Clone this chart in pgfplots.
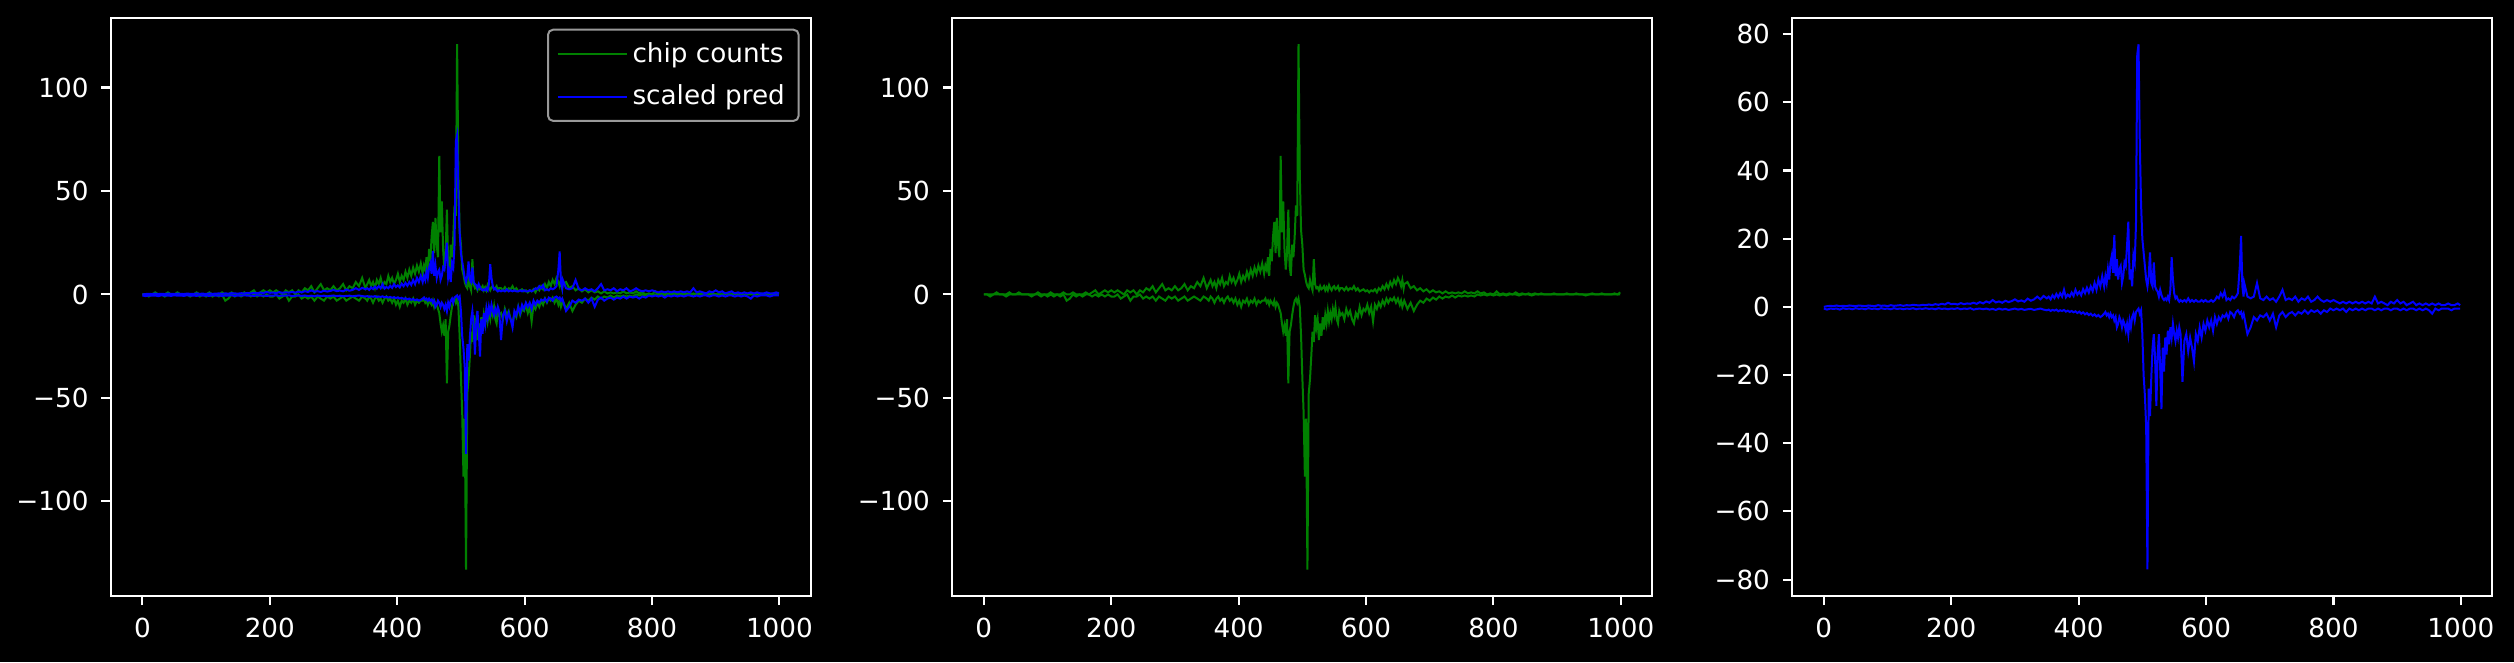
\documentclass[border=0pt]{standalone}
\usepackage{pgfplots}
\usepackage{pgfplotstable}
\pgfplotsset{compat=1.18}
\usepackage{fontspec}
\setmainfont{DejaVu Sans}
\definecolor{mplgreen}{HTML}{008000}
\definecolor{mplblue}{HTML}{0000FF}
\definecolor{legedge}{HTML}{999999}

\pgfplotstableread{
x gu gl bu bl
0 0 0 0 -0.5
5 0 0 0.2 -0.8
10 0 -1 0.3 -0.5
15 0 0 0.2 -0.6
20 1 0 0.4 -0.5
25 0 0 0.2 -0.8
30 0 0 0.3 -0.4
35 0 -1 0.2 -0.6
40 1 0 0.4 -0.5
45 0 0 0.3 -0.7
50 0 0 0.2 -0.4
55 1 0 0.4 -0.6
60 0 0 0.3 -0.5
65 0 0 0.2 -0.7
70 0 0 0.4 -0.4
75 0 -1 0.3 -0.6
80 0 0 0.2 -0.5
85 1 0 0.5 -0.7
90 0 -1 0.3 -0.4
95 0 0 0.4 -0.6
100 0 -1 0.2 -0.5
105 1 0 0.5 -0.7
110 0 -1 0.3 -0.4
115 0 0 0.4 -0.6
120 0 -1 0.5 -0.5
125 1 0 0.3 -0.7
130 0 -3 0.5 -0.5
135 0 -2 0.4 -0.6
140 1 0 0.6 -0.4
145 0 -1 0.5 -0.7
150 0 0 0.4 -0.5
155 0 -1 0.6 -0.6
160 1 0 0.5 -0.4
165 0 0 0.7 -0.6
170 1 -1 0.5 -0.5
175 2 0 0.8 -0.7
180 0 -1 0.6 -0.4
185 1 0 0.9 -0.6
190 2 -1 0.7 -0.5
195 1 0 1.2 -0.7
200 2 -1 0.8 -0.5
205 1 -1 0.9 -0.6
210 2 0 0.7 -0.4
215 1 -2 1.1 -0.7
220 0 -1 0.8 -0.5
225 2 0 1.0 -0.6
230 1 -3 0.9 -0.4
235 2 -1 1.2 -0.8
240 0 -1 0.9 -0.6
245 2 0 1.4 -0.5
250 1 -2 1.0 -0.7
255 3 -1 1.6 -0.5
260 2 -2 1.2 -0.8
265 4 -1 2.0 -0.6
270 1 -3 1.3 -0.9
275 3 -1 1.6 -0.5
280 5 -2 1.2 -0.8
285 2 -3 1.8 -0.6
290 3 -1 1.4 -0.9
295 2 -2 1.7 -0.7
300 4 -1 2.2 -0.5
305 2 -3 1.6 -0.8
310 3 -2 1.9 -0.6
315 5 -1 1.5 -0.9
320 2 -3 2.4 -0.7
325 4 -2 1.8 -0.6
330 3 -1 2.2 -0.9
335 6 -2 3.0 -0.7
340 4 -3 2.2 -0.5
345 8 -1 3.2 -0.8
350 3 -2 2.5 -1.0
353 5 -3 3.0 -0.8
356 7 -1 2.2 -1.2
359 4 -2 3.4 -0.9
362 6 -4 2.6 -1.1
365 3 -2 3.8 -0.8
368 7 -1 2.8 -1.3
371 5 -3 4.0 -1.0
374 8 -2 3.0 -1.2
377 4 -4 5.0 -0.9
380 6 -2 2.8 -1.4
383 5 -1 3.6 -1.1
386 9 -3 3.0 -1.5
389 6 -2 4.2 -1.2
392 8 -4 3.2 -1.6
395 5 -2 5.0 -1.3
398 7 -5 3.6 -1.8
401 10 -3 4.4 -1.4
404 6 -6 3.4 -2.0
407 9 -3 5.2 -1.6
410 7 -4 4.0 -2.2
413 11 -2 5.6 -1.8
416 8 -5 4.2 -2.4
419 12 -3 6.0 -2.0
422 9 -4 4.6 -2.6
425 13 -2 7.0 -2.2
428 10 -5 5.0 -2.8
431 14 -3 8.0 -2.4
434 11 -4 6.0 -3.0
437 15 -3 9.0 -2.6
440 10 -3 6 -2
442 14 -2 9 -1.5
444 12 -4 7 -2.5
446 18 -3 11 -2
448 9 -5 8 -3
450 22 -3 13 -2
452 16 -4 15 -3
454 28 -5 10 -2.5
456 35 -3 21 -4
458 20 -6 9 -3
460 37 -4 14 -6
462 24 -5 8 -5
464 18 -7 11 -3
466 67 -9 12 -4
468 30 -14 7 -6
470 45 -18 9 -4
472 22 -15 13 -5
474 12 -20 12 -7
476 20 -12 18 -5
478 41 -43 25 -8
480 14 -18 8 -4
482 9 -15 11 -6
484 24 -10 6 -3
486 18 -6 15 -2
488 28 -3 13 -4
490 43 -2 24 -1.5
492 38 -4 74 -1
494 121 -2 77 -0.5
496 58 -6 48 -2
498 31 -20 30 -1
500 24 -40 20 -8
502 12 -57 16 -20
504 9.5 -88 12 -26
506 6 -60 8 -35
508 4 -133 6 -77
510 3 -48 9 -24
512 7 -41 16 -32
514 4 -30 7 -21
516 2 -18 6 -12
518 17 -23 13 -8
520 5 -10 6 -15
522 3 -16 5 -29
524 3.5 -12 4.5 -14
526 2 -22 3 -8
528 4 -14 5 -18
530 2.5 -20 3.5 -30
532 3 -11 2.5 -12
534 4 -17 2 -19
536 2 -10 2.5 -9
538 3.5 -14 2 -14
540 2 -8 3 -7
542 4.5 -13 2 -11
544 3 -9 5 -6
546 2 -12 14.6 -9
548 3.5 -7 8 -5
550 4 -10 4 -8
552 2.5 -6 2.5 -10
554 3 -12 3 -7
556 4 -14 2 -9
558 2 -8 1.5 -6
560 3 -10 2 -8
563 3 -9 1.5 -22
566 2 -12 2 -10
569 3.5 -7 1.5 -8
572 2 -10 2.5 -13
575 3 -8 1.5 -9
578 2.5 -12 2 -12
581 4 -14 1.5 -16
584 2 -9 2 -8
587 3 -11 1.5 -10
590 1.5 -6 1.5 -6
593 2 -10 2 -9
596 2.5 -7 1.5 -5
599 1.5 -8 2 -7
602 2 -5 1.5 -4
605 1 -9 1.5 -6
608 2 -6 2 -4
611 1.5 -13 1.5 -7
614 2.5 -5 2 -3
617 1 -7 3 -5
620 3 -4 2.5 -3
623 2 -6 4 -4
626 4 -3 3 -2.5
629 2.5 -5 4.5 -3
632 5 -2 2 -2
635 3 -4 2.5 -3.5
638 6 -2 2 -1.5
641 4 -3 3 -2
644 7 -1.5 2.5 -3
647 5 -4 3 -1.5
650 8 -2 4 -1
653 6 -5 12 -2
655 4 -3 20.8 -1.5
657 7 -6 6 -3
659 3 -4 3 -2
660 5 -3 7 -3
665 6 -7 3 -8
670 3 -4 2.5 -6
675 4 -8 3 -3
680 2 -5 7 -4
685 3 -3 2.5 -2.5
690 1.5 -4 2 -3
695 2.5 -2 3 -2
700 1 -3 2 -4
705 2 -1.5 2.5 -2
710 1 -2.5 1.5 -6
715 1.5 -1 3 -2.5
720 0.5 -2 5 -1.5
725 1.5 -1 2 -3
730 0.5 -1.5 2.5 -2
735 1 -0.5 2 -1.5
740 0.5 -1.5 3 -2.5
745 1 -0.5 1.5 -1.5
750 0.5 -1 2.5 -2
755 1.5 -0.5 2 -1
760 0.5 -1 3 -2
765 1 -0.5 1.5 -1
770 0.5 -1 2 -1.5
775 1.5 0 3 -1
780 0.5 -0.5 2 -2
785 1 0 1.5 -1
790 0 -0.5 2 -1.5
795 0.5 0 1.5 -0.5
800 0 -0.5 2 -1
805 1.5 0 1.5 -0.5
810 0 -0.5 1 -1
815 0.5 0 1.5 -0.5
820 0 -0.5 1 -1.5
825 0.5 0 1.5 -0.5
830 0 0 1 -1
835 1 0 1.5 -0.5
840 0 -0.5 1 -1
845 0.5 0 1.5 -0.5
850 0 0 1 -1
855 0.5 0 1.5 -0.5
860 0 -0.5 1 -0.5
865 0.5 0 3 -1
870 0 0 1 -0.5
875 0.5 0 1.5 -1
880 0 0 1 -0.5
885 0 0 0.5 -0.5
890 0 0 1.5 -1
895 0.5 0 1 -0.5
900 0 0 2 -0.5
905 0 0 1 -1
910 0 0 1.5 -0.5
915 0.5 0 0.5 -1
920 0 0 1 -0.5
925 0 0 1.5 -0.5
930 0.5 0 0.5 -1
935 0 0 1 -0.5
940 0 0 0.5 -1
945 0 -0.5 1 -0.5
950 0 0 0.5 -1
955 0.5 0 1 -2
960 0 0 0.5 -0.5
965 0 0 1 -1
970 0.5 0 0.5 -0.5
975 0 0 0.5 -0.5
980 0 0 1 -0.5
985 0 0 0.5 -1
990 0.5 0 0.5 -0.5
995 0 0 1 -0.5
999 1 0 0.5 -0.5
}\data

\pgfplotsset{
  darkax/.style={
    scale only axis,
    width=280pt, height=231.3pt,
    anchor=south west,
    xmin=-49.95, xmax=1048.95,
    axis line style={white, line width=0.84pt},
    tick style={white, line width=0.84pt},
    major tick length=3.7pt,
    tick align=outside,
    xtick pos=left, ytick pos=left,
    xtick={0,200,400,600,800,1000},
    xticklabels={0,200,400,600,800,1000},
    ticklabel style={text=white, font=\fontsize{10.5}{12.6}\selectfont},
    xticklabel style={yshift=-1.6pt},
    yticklabel style={xshift=-1.6pt},
    axis background/.style={fill=black},
    clip=true,
  },
  gline/.style={color=mplgreen, line width=0.8pt},
  bline/.style={color=mplblue, line width=0.8pt},
}

\begin{document}
\begin{tikzpicture}
\useasboundingbox (0,0) rectangle (1005.6pt,264.8pt);
\fill[black] (0,0) rectangle (1005.6pt,264.8pt);

\begin{axis}[darkax, at={(44.24pt,26.4pt)},
  ymin=-145.7, ymax=133.7,
  ytick={-100,-50,0,50,100},
  yticklabels={−100,−50,0,50,100},
  legend cell align=left,
  legend style={at={(1,1)}, anchor=north east, xshift=-4.4pt, yshift=-4.4pt,
    fill=black, draw=legedge, line width=0.8pt, rounded corners=2pt, text=white,
    font=\fontsize{10.5}{12.6}\selectfont, inner xsep=3.5pt, inner ysep=3pt,
    row sep=3.5pt},
  legend image code/.code={\draw[#1, line width=0.6pt] (0pt,0pt) -- (21pt,0pt);
    \path (0pt,0pt) -- (27.5pt,0pt);},
]
\addplot[gline] table[x=x, y=gu] {\data};
\addlegendentry{chip counts}
\addplot[gline, forget plot] table[x=x, y=gl] {\data};
\addplot[bline] table[x=x, y=bu] {\data};
\addlegendentry{scaled pred}
\addplot[bline, forget plot] table[x=x, y=bl] {\data};
\end{axis}

\begin{axis}[darkax, at={(380.8pt,26.4pt)},
  ymin=-145.7, ymax=133.7,
  ytick={-100,-50,0,50,100},
  yticklabels={−100,−50,0,50,100},
]
\addplot[gline] table[x=x, y=gu] {\data};
\addplot[gline] table[x=x, y=gl] {\data};
\end{axis}

\begin{axis}[darkax, at={(716.8pt,26.4pt)},
  ymin=-84.8, ymax=84.8,
  ytick={-80,-60,-40,-20,0,20,40,60,80},
  yticklabels={−80,−60,−40,−20,0,20,40,60,80},
]
\addplot[bline] table[x=x, y=bu] {\data};
\addplot[bline] table[x=x, y=bl] {\data};
\end{axis}
\end{tikzpicture}
\end{document}
